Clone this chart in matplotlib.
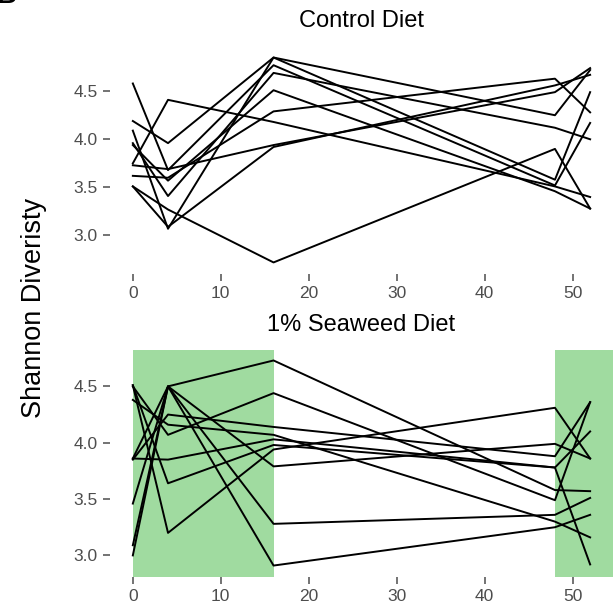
import numpy as np
import matplotlib
matplotlib.use("Agg")
import matplotlib.pyplot as plt

plt.rcParams["font.family"] = ["Liberation Sans", "DejaVu Sans"]

weeks = [0, 4, 16, 48, 52]

# shannon diversity per animal, control diet
control = [
    [3.51, 3.27, 2.72, 3.90, 3.28],
    [4.19, 3.96, 4.85, 4.25, 4.72],
    [4.09, 3.07, 4.85, 3.58, 4.49],
    [4.58, 3.68, 4.77, 3.52, 4.17],
    [3.96, 3.41, 4.69, 4.12, 4.00],
    [3.94, 3.57, 4.51, 3.46, 3.28],
    [3.62, 3.60, 4.29, 4.63, 4.28],
    [3.75, 4.41, 4.18, 3.51, 3.40],
    [3.73, 3.69, 3.94, 4.49, 4.74],
    [3.51, 3.09, 3.92, 4.56, 4.67],
]

# 1% seaweed diet
seaweed = [
    [4.51, 3.20, 3.94, 4.31, 3.86],
    [4.51, 3.64, 3.98, 3.78, 4.10],
    [4.38, 4.16, 4.07, 3.30, 3.16],
    [3.86, 3.85, 4.03, 3.78, 2.92],
    [3.85, 4.25, 4.14, 3.88, 4.36],
    [3.46, 4.50, 4.73, 3.58, 3.57],
    [3.09, 4.50, 3.28, 3.36, 3.51],
    [3.00, 4.50, 2.91, 3.25, 3.36],
    [4.50, 4.07, 4.44, 3.49, 4.36],
    [3.86, 4.50, 3.79, 3.99, 3.86],
]

# weeks on seaweed feed (shaded)
seaweed_periods = [(0, 16), (48, 60)]

x_ticks = [0, 10, 20, 30, 40, 50]
y_ticks = [3.0, 3.5, 4.0, 4.5]
y_tick_labels = ["3.0", "3.5", "4.0", "4.5"]

green = "#A0DBA0"
grey = "#4D4D4D"


def style_axis(ax, ylim):
    ax.set_xlim(-2.6, 54.6)
    ax.set_ylim(*ylim)
    for s in ax.spines.values():
        s.set_visible(False)
    ax.set_xticks(x_ticks)
    ax.set_yticks(y_ticks)
    ax.set_yticklabels(y_tick_labels)
    ax.tick_params(colors=grey, labelsize=12.5, length=5, width=1.1, pad=4,
                   labelcolor=grey)


def plot_panel(ax, data, title, ylim, shade=None):
    if shade is not None:
        for x0, x1 in shade:
            ax.axvspan(x0, x1, color=green, lw=0, zorder=0)
    for vals in data:
        ax.plot(weeks, vals, color="black", linewidth=1.4, zorder=2)
    ax.set_title(title, fontsize=17, pad=14)
    style_axis(ax, ylim)


def main():
    fig = plt.figure(figsize=(6.13, 6.04), dpi=100)
    ax1 = fig.add_axes([0.1794, 0.5464, 0.8206, 0.3775])
    ax2 = fig.add_axes([0.1794, 0.045, 0.8206, 0.375])

    plot_panel(ax1, control, "Control Diet", (2.60, 4.97))
    plot_panel(ax2, seaweed, "1% Seaweed Diet", (2.81, 4.82), shade=seaweed_periods)

    fig.text(0.055, 0.49, "Shannon Diveristy", rotation=90, fontsize=19.5,
             ha="center", va="center")
    # panel tag, mostly cut off at the top edge (as in the original)
    fig.text(-0.006, 0.995, "B", fontsize=20, fontweight="bold", va="baseline")

    fig.savefig("out.png", dpi=100)


if __name__ == "__main__":
    main()
